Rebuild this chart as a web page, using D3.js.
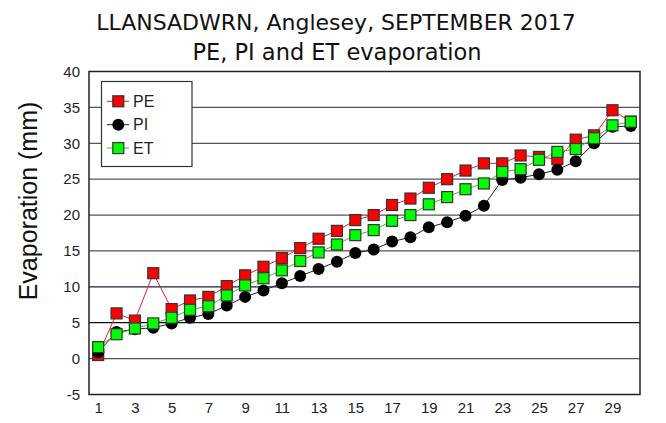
<!DOCTYPE html>
<html>
<head>
<meta charset="utf-8">
<script src="https://cdn.jsdelivr.net/npm/d3@7"></script>
<style>
  body { margin: 0; background: #fff; }
  svg { display: block; }
</style>
</head>
<body>
<svg id="chart" width="666" height="423"></svg>
<script>
// daily evaporation, Llansadwrn, September 2017 (mm, cumulative)
var days = d3.range(1, 31);
var pe = [0.5, 6.3, 5.3, 11.9, 6.9, 8.1, 8.6, 10.1, 11.6, 12.8, 14.0, 15.4, 16.7, 17.8, 19.3,
          20.0, 21.4, 22.3, 23.8, 25.0, 26.2, 27.2, 27.2, 28.3, 28.1, 27.8, 30.5, 31.1, 34.6, 33.0];
var pi = [0.9, 3.7, 4.1, 4.3, 4.9, 5.7, 6.2, 7.4, 8.6, 9.5, 10.5, 11.5, 12.5, 13.5, 14.7,
          15.2, 16.3, 16.9, 18.3, 19.0, 19.9, 21.3, 24.9, 25.2, 25.7, 26.3, 27.5, 30.0, 32.3, 32.4];
var et = [1.6, 3.4, 4.2, 4.9, 5.7, 6.8, 7.3, 8.8, 10.2, 11.2, 12.3, 13.6, 14.8, 15.9, 17.2,
          17.9, 19.2, 20.0, 21.5, 22.5, 23.6, 24.4, 26.0, 26.4, 27.7, 28.8, 29.2, 30.7, 32.5, 33.0];
var yTicks = [-5, 0, 5, 10, 15, 20, 25, 30, 35, 40];
var xTicks = [1, 3, 5, 7, 9, 11, 13, 15, 17, 19, 21, 23, 25, 27, 29];

var svg = d3.select('#chart');
var pLeft = 89, pRight = 640, pTop = 71.5, pBottom = 394.5;

var x = d3.scaleLinear().domain([0.5, 30.5]).range([pLeft, pRight]);
var y = d3.scaleLinear().domain([-5, 40]).range([pBottom, pTop]);

// titles
svg.append('text').attr('x', 336).attr('y', 30)
  .attr('text-anchor', 'middle')
  .style('font-family', 'DejaVu Sans').style('font-size', '22px').attr('fill', '#111')
  .text('LLANSADWRN, Anglesey, SEPTEMBER 2017');
svg.append('text').attr('x', 337).attr('y', 59.5)
  .attr('text-anchor', 'middle')
  .style('font-family', 'DejaVu Sans').style('font-size', '22.5px').attr('fill', '#111')
  .text('PE, PI and ET evaporation');

// grid
var gridCol = function(v){
  if (v === 10) return '#1c1c48';
  if (v === 5) return '#111';
  return '#555';
};
svg.append('g').selectAll('line')
  .data(yTicks.filter(function(v){ return v > -5 && v < 40; }))
  .enter().append('line')
    .attr('x1', pLeft).attr('x2', pRight)
    .attr('y1', function(d){ return y(d); }).attr('y2', function(d){ return y(d); })
    .attr('stroke', gridCol).attr('stroke-width', 1.3);

// frame
svg.append('rect').attr('x', pLeft).attr('y', pTop)
  .attr('width', pRight - pLeft).attr('height', pBottom - pTop)
  .attr('fill', 'none').attr('stroke', '#222').attr('stroke-width', 1.5);

// axes (labels only), plain hyphen for negatives
var plain = function(d){ return String(d); };
var yAxis = svg.append('g').attr('transform', 'translate(' + pLeft + ',0)')
  .call(d3.axisLeft(y).tickValues(yTicks).tickSize(0).tickPadding(9).tickFormat(plain));
yAxis.select('.domain').remove();
yAxis.selectAll('text').style('font-family', 'Liberation Sans').style('font-size', '15px').attr('fill', '#222');

var xAxis = svg.append('g').attr('transform', 'translate(0,' + pBottom + ')')
  .call(d3.axisBottom(x).tickValues(xTicks).tickSize(0).tickPadding(8).tickFormat(plain));
xAxis.select('.domain').remove();
xAxis.selectAll('text').style('font-family', 'Liberation Sans').style('font-size', '15px').attr('fill', '#222');

svg.append('text')
  .attr('transform', 'translate(37,201) rotate(-90)')
  .attr('text-anchor', 'middle')
  .style('font-family', 'Liberation Sans').style('font-size', '25px').attr('fill', '#111')
  .text('Evaporation (mm)');

// series
var series = [
  {name: 'PE', values: pe, line: '#e8202a', fill: '#ff0000', shape: 'square'},
  {name: 'PI', values: pi, line: '#222', fill: '#000', shape: 'circle'},
  {name: 'ET', values: et, line: '#22cc22', fill: '#00ff00', shape: 'square'}
];

var line = d3.line().x(function(d){ return x(d[0]); }).y(function(d){ return y(d[1]); });

function drawMarker(g, shape, fill, cx, cy) {
  if (shape === 'circle') {
    g.append('circle').attr('cx', cx).attr('cy', cy).attr('r', 6).attr('fill', fill);
  } else {
    g.append('rect').attr('x', cx - 5.5).attr('y', cy - 5.5).attr('width', 11).attr('height', 11)
      .attr('fill', fill).attr('stroke', '#333').attr('stroke-width', 1.2);
  }
}

series.forEach(function(s){
  var pts = days.map(function(d, i){ return [d, s.values[i]]; });
  var g = svg.append('g');
  g.append('path').datum(pts).attr('d', line)
    .attr('fill', 'none').attr('stroke', s.line).attr('stroke-width', 1);
  pts.forEach(function(p){ drawMarker(g, s.shape, s.fill, x(p[0]), y(p[1])); });
});

// legend
var lg = svg.append('g');
lg.append('rect').attr('x', 101.5).attr('y', 81.5).attr('width', 90.5).attr('height', 85)
  .attr('fill', '#fff').attr('stroke', '#333').attr('stroke-width', 1.2);
series.forEach(function(s, i){
  var ly = 101.3 + i * 23.4;
  lg.append('line').attr('x1', 107).attr('x2', 129).attr('y1', ly).attr('y2', ly)
    .attr('stroke', s.line).attr('stroke-width', 1);
  drawMarker(lg, s.shape, s.fill, 118.3, ly);
  lg.append('text').attr('x', 133).attr('y', ly).attr('dy', '0.36em')
    .style('font-family', 'Liberation Sans').style('font-size', '16px').attr('fill', '#222')
    .text(s.name);
});
</script>
</body>
</html>
